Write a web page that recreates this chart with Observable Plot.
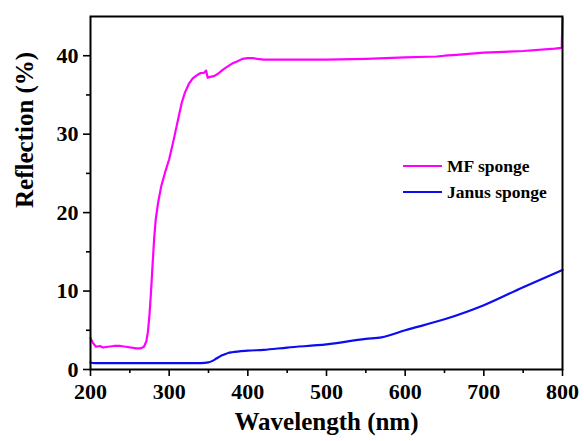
<!DOCTYPE html>
<html>
<head>
<meta charset="utf-8">
<script src="https://cdn.jsdelivr.net/npm/d3@7"></script>
<script src="https://cdn.jsdelivr.net/npm/@observablehq/plot@0.6"></script>
<style>
  html, body { margin: 0; padding: 0; background: #fff; }
  #wrap { position: relative; width: 584px; height: 441px; }
  #legend { position: absolute; left: 400px; top: 150px; }
</style>
</head>
<body>
<div id="wrap"></div>
<script>
// ---- data ----
const seriesNames = ["MF sponge", "Janus sponge"];
const seriesColors = ["#ff00ff", "#0c0cf0"];

const mfWave = [200, 203, 207, 212, 216, 222, 230, 238, 245, 252, 258, 264, 268, 271, 273, 275, 277, 279, 281, 283, 286, 290, 295, 300, 306, 312, 316, 320, 325, 330, 335, 340, 344, 347, 349, 352, 357, 362, 368, 374, 380, 387, 393, 400, 406, 412, 420, 450, 500, 550, 600, 640, 650, 665, 700, 750, 790, 799, 800];
const mfRefl = [4.0, 3.4, 2.9, 3.0, 2.8, 2.9, 3.0, 3.0, 2.9, 2.8, 2.7, 2.7, 2.9, 3.6, 4.8, 7.0, 10.0, 13.5, 16.8, 19.2, 21.3, 23.4, 25.2, 26.8, 29.4, 32.2, 34.0, 35.3, 36.4, 37.1, 37.5, 37.8, 37.8, 38.1, 37.2, 37.3, 37.4, 37.7, 38.2, 38.6, 39.0, 39.3, 39.6, 39.7, 39.7, 39.6, 39.5, 39.5, 39.5, 39.6, 39.8, 39.9, 40.0, 40.1, 40.4, 40.6, 40.9, 41.0, 44.8];

const janusWave = [200, 205, 250, 300, 340, 350, 355, 360, 365, 370, 375, 380, 400, 420, 450, 500, 550, 570, 600, 650, 700, 750, 800];
const janusRefl = [0.9, 0.8, 0.8, 0.8, 0.8, 0.9, 1.1, 1.4, 1.7, 1.9, 2.1, 2.2, 2.4, 2.5, 2.8, 3.2, 3.9, 4.1, 5.0, 6.4, 8.2, 10.5, 12.7];

const xMajor = [200, 300, 400, 500, 600, 700, 800];
const xMinor = [250, 350, 450, 550, 650, 750];
const yMajor = [0, 10, 20, 30, 40];
const yMinor = [5, 15, 25, 35];

const xTitle = "Wavelength (nm)";
const yTitle = "Reflection (%)";

// ---- build ----
const mf = mfWave.map((w, i) => ({w, r: mfRefl[i]}));
const janus = janusWave.map((w, i) => ({w, r: janusRefl[i]}));

const serifFamily = "Liberation Serif";

const chart = Plot.plot({
  width: 584,
  height: 441,
  marginLeft: 90,
  marginRight: 22,
  marginTop: 16,
  marginBottom: 72,
  style: {background: "#fff", color: "#000"},
  x: {domain: [200, 800]},
  y: {domain: [0, 45]},
  marks: [
    Plot.line(janus, {x: "w", y: "r", stroke: seriesColors[1], strokeWidth: 2.2, curve: "monotone-x"}),
    Plot.line(mf, {x: "w", y: "r", stroke: seriesColors[0], strokeWidth: 2.2}),
    Plot.frame({stroke: "#000", strokeWidth: 2}),
    Plot.axisX({ticks: xMajor, tickSize: 7, tickPadding: 7, strokeWidth: 1.6, label: null, fontSize: 22, fontWeight: "bold", fontFamily: serifFamily, fill: "#000"}),
    Plot.axisX({ticks: xMinor, tickSize: 4, strokeWidth: 1.6, tickFormat: () => "", label: null}),
    Plot.axisY({ticks: yMajor, tickSize: 7, tickPadding: 5, strokeWidth: 1.6, label: null, fontSize: 22, fontWeight: "bold", fontFamily: serifFamily, fill: "#000"}),
    Plot.axisY({ticks: yMinor, tickSize: 4, strokeWidth: 1.6, tickFormat: () => "", label: null}),
    Plot.text([xTitle], {frameAnchor: "bottom", dy: 60, text: d => d, fontSize: 25, fontWeight: "bold", fontFamily: serifFamily, fill: "#000"}),
    Plot.text([yTitle], {frameAnchor: "left", dx: -66, dy: 15, rotate: -90, text: d => d, fontSize: 25, fontWeight: "bold", fontFamily: serifFamily, fill: "#000"})
  ]
});

const wrap = document.getElementById("wrap");
wrap.appendChild(chart);

// legend overlay inside the plot area
const leg = d3.select(wrap).append("svg")
  .attr("id", "legend")
  .attr("width", 170).attr("height", 60);
const rows = leg.selectAll("g").data(seriesNames).join("g")
  .attr("transform", (d, i) => `translate(0, ${16 + i * 26})`);
rows.append("line")
  .attr("x1", 3).attr("x2", 42).attr("y1", 0).attr("y2", 0)
  .attr("stroke", (d, i) => seriesColors[i]).attr("stroke-width", 2.2);
rows.append("text")
  .attr("x", 47).attr("y", 5.8)
  .attr("font-family", serifFamily).attr("font-weight", "bold")
  .attr("font-size", 17.5)
  .attr("fill", "#000")
  .text(d => d);
</script>
</body>
</html>
